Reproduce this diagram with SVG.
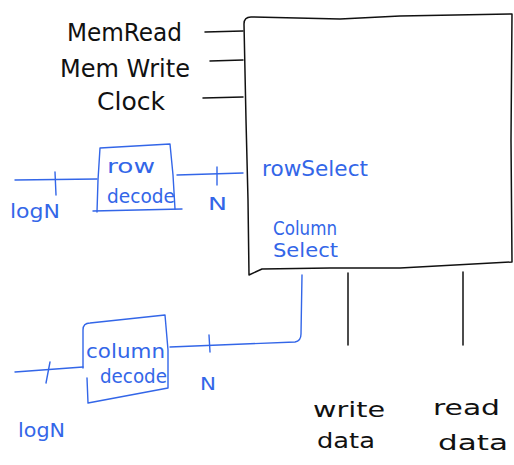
<svg xmlns="http://www.w3.org/2000/svg" width="514" height="465" viewBox="0 0 514 465">
<style>
.k{fill:none;stroke:#111;stroke-width:1.5;stroke-linecap:round;stroke-linejoin:round}
.b{fill:none;stroke:#3366e8;stroke-width:1.4;stroke-linecap:round;stroke-linejoin:round}
.tk{font-family:"DejaVu Sans","Liberation Sans",sans-serif;fill:#111;font-weight:normal}
.tb{font-family:"DejaVu Sans","Liberation Sans",sans-serif;fill:#3366e8}
</style>
<rect width="514" height="465" fill="#fff"/>
<g id="memory">
<path class="k" d="M249,275 L248,200 L246,120 L244,24 Q244,17 251,17 L340,19 L400,16 L512,14 L511,140 L512,262 L400,268 L330,268 L262,269 Z"/>
<text class="tb" x="262" y="176" font-size="21" textLength="106" lengthAdjust="spacingAndGlyphs">rowSelect</text>
<text class="tb" x="273" y="235" font-size="19" textLength="64" lengthAdjust="spacingAndGlyphs">Column</text>
<text class="tb" x="273" y="257" font-size="19" textLength="65" lengthAdjust="spacingAndGlyphs">Select</text>
</g>
<g id="control-labels">
<text class="tk" x="67" y="41" font-size="25" textLength="115" lengthAdjust="spacingAndGlyphs">MemRead</text>
<text class="tk" x="60" y="77" font-size="24" textLength="130" lengthAdjust="spacingAndGlyphs">Mem Write</text>
<text class="tk" x="97" y="110" font-size="25" textLength="68" lengthAdjust="spacingAndGlyphs">Clock</text>
</g>
<g id="row-decode">
<path class="b" d="M97,212 L98,180 L100,148 L170,144 L173,175 L175,209"/>
<path class="b" d="M93,211 L182,209"/>
<text class="tb" x="107" y="173" font-size="20" textLength="48" lengthAdjust="spacingAndGlyphs">row</text>
<text class="tb" x="107" y="203" font-size="20" textLength="68" lengthAdjust="spacingAndGlyphs">decode</text>
<text class="tb" x="10" y="218" font-size="19" textLength="50" lengthAdjust="spacingAndGlyphs">logN</text>
<text class="tb" x="208" y="210" font-size="18" textLength="19" lengthAdjust="spacingAndGlyphs">N</text>
</g>
<g id="column-decode">
<path class="b" d="M83,368 L83,330 Q83,323 90,323 L165,315 L168,350 L168,388 L88,403 L87,378"/>
<text class="tb" x="86" y="358" font-size="19" textLength="79" lengthAdjust="spacingAndGlyphs">column</text>
<text class="tb" x="100" y="383" font-size="19" textLength="67" lengthAdjust="spacingAndGlyphs">decode</text>
<text class="tb" x="18" y="437" font-size="19" textLength="47" lengthAdjust="spacingAndGlyphs">logN</text>
<text class="tb" x="200" y="390" font-size="18" textLength="16" lengthAdjust="spacingAndGlyphs">N</text>
</g>
<g id="data-labels">
<text class="tk" x="313" y="417" font-size="22" textLength="72" lengthAdjust="spacingAndGlyphs">write</text>
<text class="tk" x="317" y="448" font-size="22" textLength="58" lengthAdjust="spacingAndGlyphs">data</text>
<text class="tk" x="433" y="415" font-size="22" textLength="67" lengthAdjust="spacingAndGlyphs">read</text>
<text class="tk" x="438" y="450" font-size="22" textLength="70" lengthAdjust="spacingAndGlyphs">data</text>
</g>
<g id="connectors">
<path class="k" d="M205,32 L243,31"/>
<path class="k" d="M210,61 L243,60"/>
<path class="k" d="M203,98 L243,97"/>
<path class="k" d="M348,273 L348,345"/>
<path class="k" d="M463,272 L463,345"/>
<path class="b" d="M15,180 L97,179"/>
<path class="b" d="M55,172 L56,195"/>
<path class="b" d="M177,175 L243,173"/>
<path class="b" d="M217,167 L217,185"/>
<path class="b" d="M15,372 L83,367"/>
<path class="b" d="M50,362 L46,383"/>
<path class="b" d="M170,347 L295,342 Q301,341 301,334 L302,275"/>
<path class="b" d="M209,335 L210,352"/>
</g>
</svg>
